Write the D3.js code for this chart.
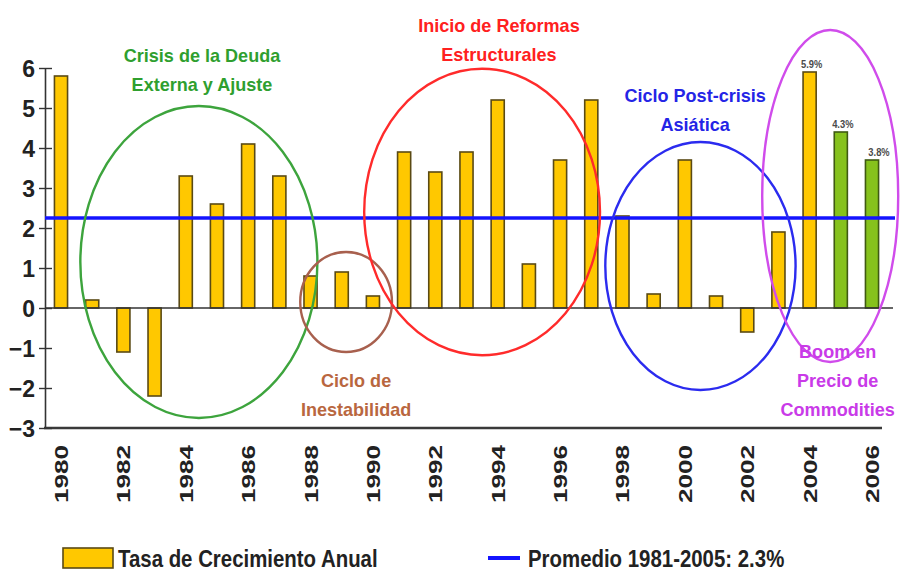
<!DOCTYPE html>
<html><head><meta charset="utf-8">
<script src="https://cdn.jsdelivr.net/npm/d3@7"></script>
<style>body{margin:0;background:#fff}svg{display:block}</style>
</head><body><svg id="c" width="901" height="573"></svg>
<script>
const years=[1980,1981,1982,1983,1984,1985,1986,1987,1988,1989,1990,1991,1992,1993,1994,1995,1996,1997,1998,1999,2000,2001,2002,2003,2004,2005,2006];
const growth=[5.8,0.2,-1.1,-2.2,3.3,2.6,4.1,3.3,0.8,0.9,0.3,3.9,3.4,3.9,5.2,1.1,3.7,5.2,2.3,0.35,3.7,0.3,-0.6,1.9,5.9,4.4,3.7];
const projectedYears=[2005,2006];
const average=2.25;
const yTicks=[-3,-2,-1,0,1,2,3,4,5,6];
const xTickYears=[1980,1982,1984,1986,1988,1990,1992,1994,1996,1998,2000,2002,2004,2006];
const valueLabelYears=[2004,2005,2006];
const valueLabelTexts=["5.9%","4.3%","3.8%"];
const periodNames=[["Crisis de la Deuda","Externa y Ajuste"],["Ciclo de","Inestabilidad"],["Inicio de Reformas","Estructurales"],["Ciclo Post-crisis","Asiática"],["Boom en","Precio de","Commodities"]];
// ellipse centre (year, value) and radii (years, value units)
const periodCx=[1984.42,1989.14,1993.5,2000.5,2004.66];
const periodCy=[1.15,0.15,2.4,1.05,2.8];
const periodRx=[3.8,1.47,3.78,3.05,2.18];
const periodRy=[3.9,1.25,3.58,3.1,4.15];
const labelX=[1984.52,1989.46,1994.04,2000.33,2004.9];
const labelY=[6.15,-1.98,6.9,5.15,-1.25];
const periodColors=["#3da43d","#a8604e","#ff2b2b","#2b2bef","#d04ceb"];
const textColors=["#2f9f2f","#b9673f","#ff2020","#2424e6","#c93ae8"];
const legendLabels=["Tasa de Crecimiento Anual","Promedio 1981-2005: 2.3%"];

const svg=d3.select("#c");
const FONT="'Liberation Sans',Arial,sans-serif";
const condense=(sel,f)=>sel.each(function(){const w=this.getComputedTextLength();d3.select(this).attr("textLength",w*f).attr("lengthAdjust","spacingAndGlyphs");});
const x=d3.scaleBand().domain(years).range([45.4,887.6]).paddingInner(0.58).paddingOuter(0.29);
const step=x.step();
const xc=yr=>x(1980)+x.bandwidth()/2+(yr-1980)*step;
const y=d3.scaleLinear().domain([-3,6]).range([428,68]);

const data=years.map((yr,i)=>({yr,v:growth[i]}));

// bars
svg.append("g").selectAll("rect").data(data).join("rect")
 .attr("x",d=>x(d.yr)).attr("width",x.bandwidth())
 .attr("y",d=>y(Math.max(0,d.v))).attr("height",d=>Math.abs(y(d.v)-y(0)))
 .attr("fill",d=>projectedYears.includes(d.yr)?"#86c21c":"#ffc800")
 .attr("stroke",d=>projectedYears.includes(d.yr)?"#3f5a12":"#5a4a14").attr("stroke-width",1.6);

// zero line
svg.append("line").attr("x1",45).attr("x2",893).attr("y1",y(0)).attr("y2",y(0))
 .attr("stroke","#333").attr("stroke-width",1.6);
// bottom axis line
svg.append("line").attr("x1",44).attr("x2",882).attr("y1",y(-3)).attr("y2",y(-3))
 .attr("stroke","#3a3a3a").attr("stroke-width",2.6);

// y axis
const ya=svg.append("g").attr("transform","translate(45,0)").call(d3.axisLeft(y).tickValues(yTicks).tickSize(0).tickFormat(d3.format("d")));
ya.select(".domain").attr("stroke","#333").attr("stroke-width",1.6);
ya.selectAll(".tick line").attr("x1",-6).attr("x2",7).attr("stroke","#333").attr("stroke-width",1.4);
ya.selectAll(".tick text").attr("x",-10).attr("dy","0.36em").attr("font-family",FONT)
 .attr("font-weight","bold").attr("font-size",23).attr("fill","#222");

// average line
svg.append("line").attr("x1",45).attr("x2",895).attr("y1",y(average)).attr("y2",y(average))
 .attr("stroke","#1414ff").attr("stroke-width",3.5);

// x labels
svg.append("g").selectAll("text").data(xTickYears).join("text")
 .attr("transform",d=>`translate(${xc(d)+7},445) rotate(-90)`)
 .attr("text-anchor","end").attr("font-family",FONT).attr("font-weight","bold")
 .attr("font-size",19).attr("textLength",58).attr("lengthAdjust","spacingAndGlyphs").attr("fill","#222").text(d=>d);

// value labels
svg.append("g").selectAll("text").data(valueLabelYears).join("text")
 .attr("x",(d,i)=>xc(d)+(i==2?7:2)).attr("y",d=>y(growth[years.indexOf(d)])-4)
 .attr("text-anchor","middle").attr("font-family",FONT).attr("font-weight","bold").attr("font-size",11).attr("fill","#4a4a4a")
 .text((d,i)=>valueLabelTexts[i]).call(condense,0.85);

// ellipses
const per=periodNames.map((n,i)=>({n,i}));
svg.append("g").selectAll("ellipse").data(per).join("ellipse")
 .attr("cx",d=>xc(periodCx[d.i])).attr("cy",d=>y(periodCy[d.i]))
 .attr("rx",d=>periodRx[d.i]*step).attr("ry",d=>y(0)-y(periodRy[d.i]))
 .attr("fill","none").attr("stroke",d=>periodColors[d.i]).attr("stroke-width",2.4);

// period labels (one text per line, slightly condensed like the narrow original font)
per.forEach(d=>{
  d.n.forEach((line,j)=>{
    svg.append("text").attr("text-anchor","middle").attr("font-family",FONT).attr("font-weight","bold")
     .attr("font-size",19).attr("fill",textColors[d.i])
     .attr("x",xc(labelX[d.i])).attr("y",y(labelY[d.i])+j*29).text(line).call(condense,0.95);
  });
});

// legend
svg.append("rect").attr("x",63).attr("y",548).attr("width",50).attr("height",20)
 .attr("fill","#ffc800").attr("stroke","#5a4a14").attr("stroke-width",1.6);
svg.append("text").attr("x",118).attr("y",567).attr("font-family",FONT).attr("font-weight","bold")
 .attr("font-size",24).attr("fill","#222").text(legendLabels[0]).call(condense,0.85);
svg.append("line").attr("x1",488).attr("x2",520).attr("y1",558).attr("y2",558).attr("stroke","#1414ff").attr("stroke-width",4);
svg.append("text").attr("x",528).attr("y",567).attr("font-family",FONT).attr("font-weight","bold")
 .attr("font-size",24).attr("fill","#222").text(legendLabels[1]).call(condense,0.85);
</script></body></html>
